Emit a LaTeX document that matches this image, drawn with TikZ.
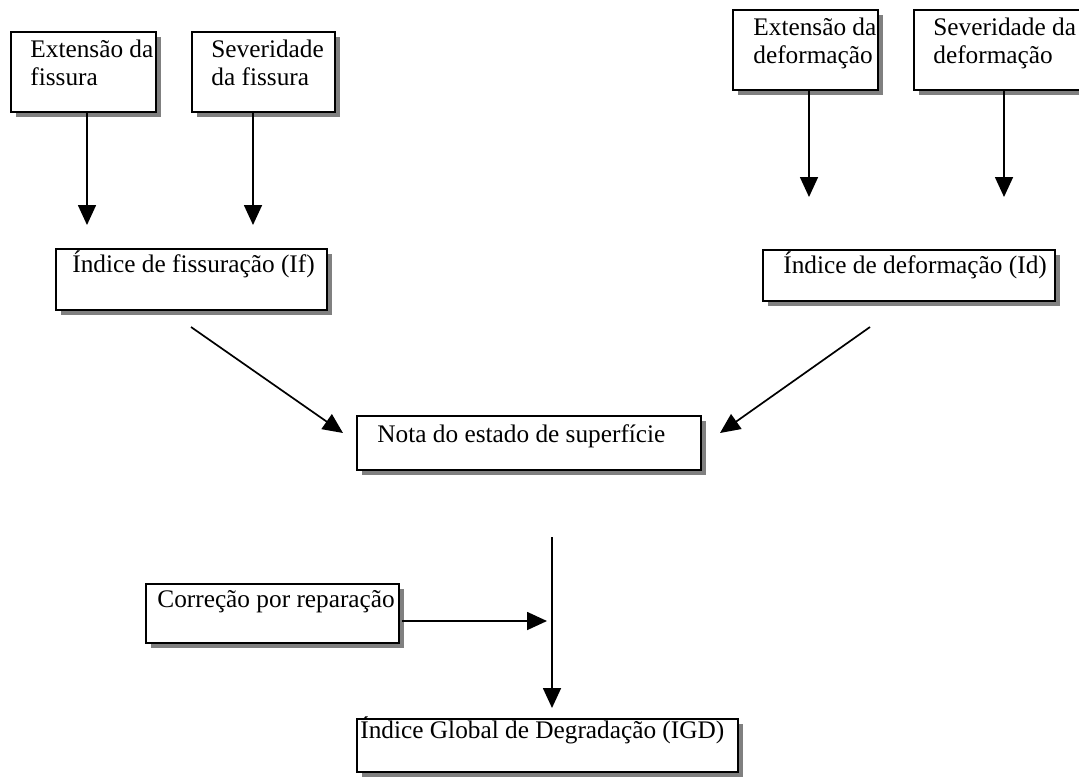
\documentclass[tikz,border=0pt]{standalone}
\usepackage{fontspec}
\setmainfont{Liberation Serif}
\usetikzlibrary{arrows.meta,shadows}
\begin{document}
\begin{tikzpicture}[x=0.5pt,y=-0.5pt,
  box/.style={draw=black,line width=0.8pt,fill=white,rectangle,inner sep=0pt,outer sep=0pt,anchor=north west,
    drop shadow={shadow xshift=2.7pt,shadow yshift=-2.7pt,fill=black!50,opacity=1}},
  txt/.style={anchor=base west,inner sep=0pt,font=\fontsize{12.65}{14}\selectfont},
  arr/.style={line width=0.85pt,-{Triangle[length=10pt,width=9pt]}}]
\useasboundingbox (0,0) rectangle (1079,776);
\clip (0,0) rectangle (1079,776);
% boxes
\node[box,minimum width=72.5pt,minimum height=40pt] (b1) at (11,32) {};
\node[box,minimum width=71.5pt,minimum height=40pt] (b2) at (192,32) {};
\node[box,minimum width=72.5pt,minimum height=40pt] (b3) at (733,10) {};
\node[box,minimum width=90pt,minimum height=40pt] (b4) at (914,10) {};
\node[box,minimum width=135.5pt,minimum height=30.5pt] (bif) at (56,249) {};
\node[box,minimum width=146pt,minimum height=25.5pt] (bid) at (763,250) {};
\node[box,minimum width=172pt,minimum height=27pt] (bnota) at (357,416) {};
\node[box,minimum width=126.5pt,minimum height=29.5pt] (bcorr) at (146,584) {};
\node[box,minimum width=190.5pt,minimum height=26.5pt] (bigd) at (357,719) {};
% texts
\node[txt] (t1a) at (30,57) {Extensão da};
\node[txt] (t1b) at (30,85) {fissura};
\node[txt] (t2a) at (211,57) {Severidade};
\node[txt] (t2b) at (211,85) {da fissura};
\node[txt] (t3a) at (753,35) {Extensão da};
\node[txt] (t3b) at (753,63) {deformação};
\node[txt] (t4a) at (933,35) {Severidade da};
\node[txt] (t4b) at (933,63) {deformação};
\node[txt] (tif) at (72,272) {Índice de fissuração (If)};
\node[txt] (tid) at (783,273) {Índice de deformação (Id)};
\node[txt] (tnota) at (377,442) {Nota do estado de superfície};
\node[txt] (tcorr) at (157,607) {Correção por reparação};
\node[txt] (tigd) at (360,738) {Índice Global de Degradação (IGD)};
% connector end points
\coordinate (e1) at (87,225);
\coordinate (e2) at (253,225);
\coordinate (e3) at (809,197);
\coordinate (e4) at (1004,197);
\coordinate (s5) at (191,327);
\coordinate (e5) at (343,433);
\coordinate (s6) at (870,327);
\coordinate (e6) at (720,433);
\coordinate (s7) at (552,537);
\coordinate (e7) at (552,708);
\coordinate (s8) at (402,621);
\coordinate (e8) at (547,621);
% connectors
\draw[arr] (b1.south -| e1) -- (e1);
\draw[arr] (b2.south -| e2) -- (e2);
\draw[arr] (b3.south -| e3) -- (e3);
\draw[arr] (b4.south -| e4) -- (e4);
\draw[arr] (s5) -- (e5);
\draw[arr] (s6) -- (e6);
\draw[arr] (s7) -- (e7);
\draw[arr] (s8) -- (e8);
\end{tikzpicture}
\end{document}
